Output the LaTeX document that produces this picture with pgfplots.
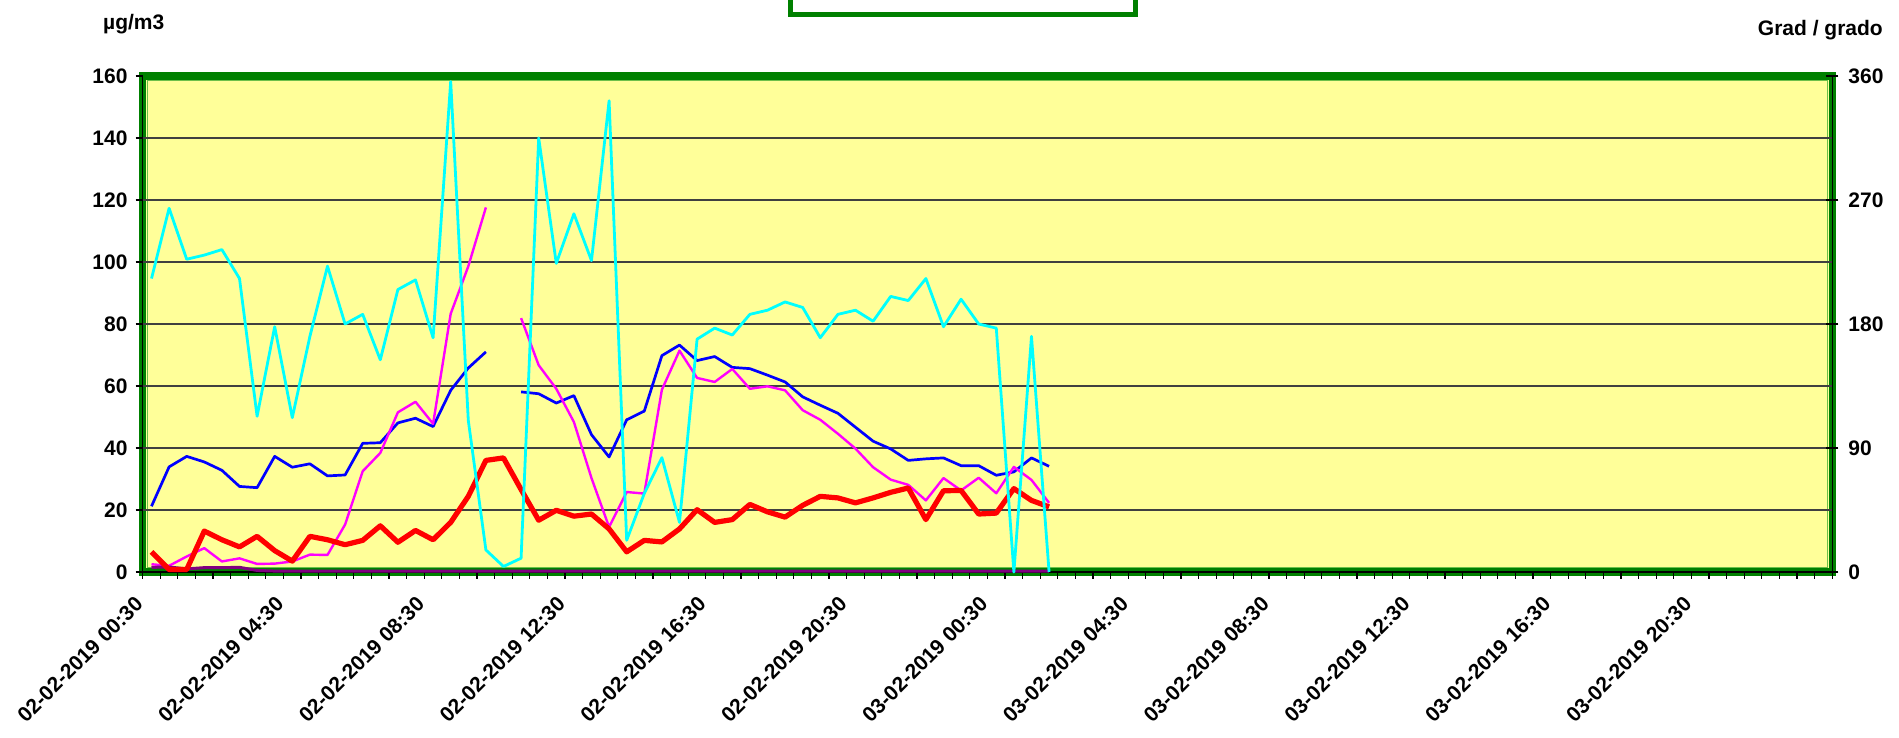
\documentclass[border=0pt]{standalone}
\usepackage{fontspec}
\setmainfont{Liberation Sans}
\usepackage{pgfplots}
\usepackage{pgfplotstable}
\pgfplotsset{compat=1.18}
\definecolor{framegreen}{HTML}{008000}
\definecolor{innergreen}{HTML}{6CC04A}
\definecolor{bgyellow}{HTML}{FFFF99}
\definecolor{gridgray}{HTML}{404040}
\definecolor{cyanl}{HTML}{00FFFF}
\definecolor{bluel}{HTML}{0000FF}
\definecolor{magl}{HTML}{FF00FF}
\definecolor{redl}{HTML}{FF0000}
\definecolor{purl}{HTML}{800080}

\pgfplotstableread{
x    cy   bl    mg    rd    pu
0.5  213  21.2  2.5   6.5   1.5
1.5  264  33.9  2.0   0.8   1.6
2.5  227  37.3  5.0   0.8   1.0
3.5  230  35.5  7.7   13.2  1.4
4.5  234  32.8  3.4   10.4  1.4
5.5  213  27.6  4.4   8.1   1.5
6.5  113  27.2  2.6   11.5  0.5
7.5  178  37.3  2.7   6.9   0.3
8.5  112  33.8  3.4   3.5   0.3
9.5  171  34.9  5.6   11.5  0.3
10.5 222  31.0  5.5   10.4  0.3
11.5 180  31.3  15.3  8.8   0.3
12.5 187  41.5  32.5  10.2  0.3
13.5 154  41.7  38.4  14.9  0.3
14.5 205  48.1  51.5  9.6   0.3
15.5 212  49.6  54.9  13.4  0.3
16.5 170  46.9  47.8  10.4  0.3
17.5 356  58.6  83.3  16.0  0.3
18.5 110  65.8  98.6  24.4  0.3
19.5 16   71.0  117.6 36.0  0.3
20.5 4    nan   nan   36.8  0.3
21.5 10   58.1  81.9  26.6  0.3
22.5 315  57.5  66.7  16.7  0.3
23.5 224  54.5  59.1  19.9  0.3
24.5 260  56.9  48.4  18.0  0.3
25.5 226  44.3  30.3  18.7  0.3
26.5 342  37.1  14.5  13.9  0.3
27.5 23   49.1  25.8  6.5   0.3
28.5 57   51.9  25.3  10.2  0.3
29.5 83   69.8  58.8  9.7   0.3
30.5 36   73.2  71.4  13.9  0.3
31.5 169  68.2  62.6  20.1  0.3
32.5 177  69.5  61.3  16.0  0.3
33.5 172  66.0  65.5  16.9  0.3
34.5 187  65.6  59.1  21.8  0.3
35.5 190  63.5  59.9  19.4  0.3
36.5 196  61.3  58.6  17.7  0.3
37.5 192  56.5  52.2  21.5  0.3
38.5 170  53.8  49.1  24.4  0.3
39.5 187  51.2  44.6  23.9  0.3
40.5 190  46.7  39.8  22.3  0.3
41.5 182  42.2  33.8  23.9  0.3
42.5 200  39.7  29.8  25.7  0.3
43.5 197  36.0  28.1  27.1  0.3
44.5 213  36.5  23.1  16.9  0.3
45.5 178  36.8  30.3  26.2  0.3
46.5 198  34.3  26.3  26.3  0.3
47.5 180  34.3  30.4  18.7  0.3
48.5 177  31.2  25.4  19.0  0.3
49.5 0    32.3  33.9  26.9  0.3
50.5 171  36.8  29.7  23.1  0.3
51.5 0    34.1  22.3  21.0  0.3
}\datatable

\pgfplotsset{
  every tick label/.append style={font=\fontsize{21}{25}\selectfont\bfseries},
  /pgf/number format/assume math mode=true,
}

\begin{document}
\begin{tikzpicture}[x=1pt,y=1pt]
\useasboundingbox (0,0) rectangle (1899,738);
% plot area background and frame
\fill[bgyellow] (142.7,166) rectangle (1832.3,662);
\draw[framegreen, line width=7.5pt] (142.7,166) rectangle (1832.3,662);
\draw[innergreen, line width=1.2pt] (147.3,170.6) rectangle (1827.7,657.4);
% legend box (mostly outside the picture)
\draw[framegreen, line width=5pt, fill=white] (790.8,723) rectangle (1135.5,770);
% axis titles
\node[anchor=base west, inner sep=0pt, font=\fontsize{21}{25}\selectfont\bfseries] at (103,708) {µg/m3};
\node[anchor=base east, inner sep=0pt, font=\fontsize{21}{25}\selectfont\bfseries] at (1883,702) {Grad / grado};

\begin{axis}[
  at={(142.7pt,166pt)}, anchor=south west,
  scale only axis, width=1689.6pt, height=496pt,
  xmin=0, xmax=96, ymin=0, ymax=160,
  axis x line*=bottom, axis y line*=left,
  axis line style={black, line width=1.2pt},
  tick align=outside,
  major tick length=7pt, minor tick length=7pt,
  tick style={black, line width=1.2pt},
  xtick={0,8,...,88},
  minor xtick={0,...,96},
  xticklabels={02-02-2019 00:30,02-02-2019 04:30,02-02-2019 08:30,02-02-2019 12:30,02-02-2019 16:30,02-02-2019 20:30,03-02-2019 00:30,03-02-2019 04:30,03-02-2019 08:30,03-02-2019 12:30,03-02-2019 16:30,03-02-2019 20:30},
  xticklabel style={xshift=-9pt, yshift=-16pt, rotate=45, anchor=north east, inner sep=0pt},
  ytick={0,20,...,160},
  yticklabel style={inner sep=0pt, xshift=-8pt},
  extra y ticks={20,40,...,140},
  extra y tick labels={},
  extra y tick style={grid=major, major tick length=0pt},
  grid style={gridgray, line width=1.5pt},
  unbounded coords=jump,
  clip=false,
]
\addplot[bluel, line width=2.7pt, line join=round] table[x=x, y=bl] {\datatable};
\addplot[magl, line width=2.4pt, line join=round] table[x=x, y=mg] {\datatable};
\addplot[purl, line width=3pt, line join=round] table[x=x, y=pu] {\datatable};
\addplot[redl, line width=5.2pt, line join=round] table[x=x, y=rd] {\datatable};
\end{axis}

\begin{axis}[
  at={(142.7pt,166pt)}, anchor=south west,
  scale only axis, width=1689.6pt, height=496pt,
  xmin=0, xmax=96, ymin=0, ymax=360,
  axis x line=none, axis y line*=right,
  axis line style={black, line width=1.2pt},
  tick align=center, major tick length=12pt,
  tick style={black, line width=1.2pt},
  ytick={0,90,...,360},
  yticklabel style={inner sep=0pt, anchor=west, xshift=10pt},
  clip=false,
]
\addplot[cyanl, line width=2.8pt, line join=round] table[x=x, y=cy] {\datatable};
\end{axis}
\end{tikzpicture}
\end{document}
